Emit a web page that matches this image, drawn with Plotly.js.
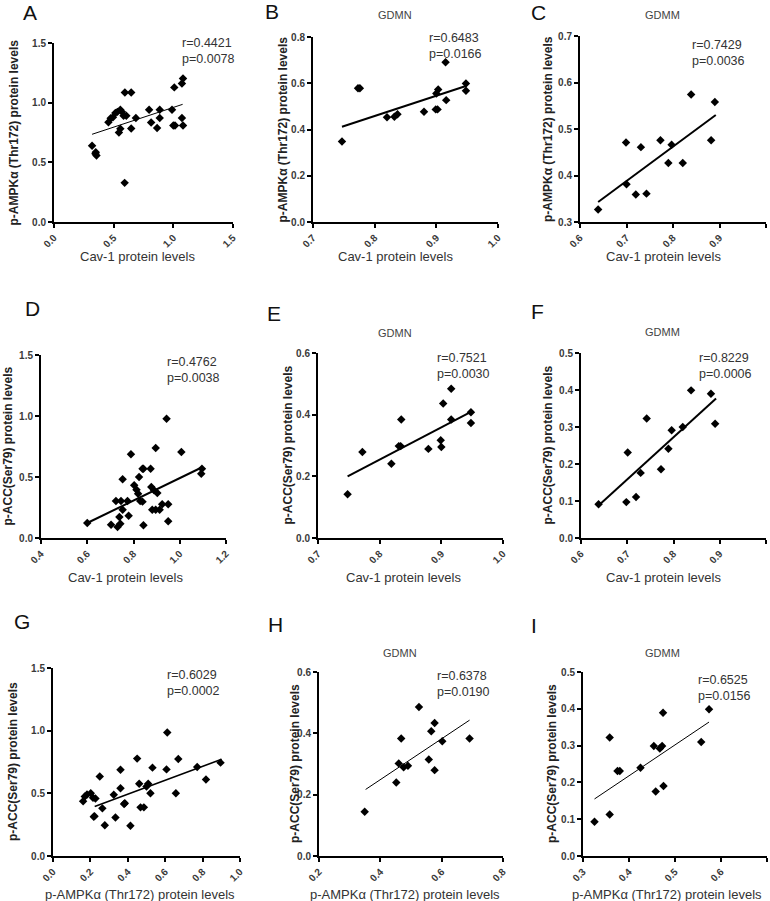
<!DOCTYPE html>
<html><head><meta charset="utf-8">
<script src="https://cdn.plot.ly/plotly-3.0.1.min.js"></script>
<style>html,body{margin:0;padding:0;background:#fff}</style>
</head><body><div id="chart" style="width:770px;height:901px"></div>
<script>
// ---- Data ----
const aX = [0.319,0.347,0.356,0.350,0.456,0.475,0.494,0.514,0.531,0.556,0.569,0.544,0.556,0.583,0.606,0.594,0.647,0.592,0.647,0.686,0.797,0.814,0.864,0.886,0.886,0.989,1.000,1.014,1.008,1.072,1.081,1.072,1.081];
const aY = [0.639,0.571,0.557,0.585,0.836,0.869,0.877,0.913,0.923,0.940,0.923,0.749,0.781,0.891,0.891,1.085,1.085,0.328,0.784,0.872,0.940,0.833,0.787,0.872,0.940,0.940,0.809,0.809,1.128,1.161,1.202,0.872,0.809];
const aFitX = [0.319,1.078], aFitY = [0.735,0.986];

const bX = [0.747,0.773,0.776,0.820,0.832,0.837,0.880,0.899,0.902,0.900,0.903,0.916,0.915,0.948,0.948];
const bY = [0.348,0.578,0.578,0.453,0.455,0.466,0.477,0.487,0.487,0.556,0.573,0.527,0.691,0.599,0.568];
const bFitX = [0.747,0.948], bFitY = [0.412,0.588];

const cX = [0.639,0.699,0.700,0.720,0.731,0.743,0.773,0.790,0.797,0.821,0.839,0.882,0.890];
const cY = [0.327,0.471,0.381,0.359,0.461,0.361,0.476,0.427,0.466,0.427,0.574,0.476,0.558];
const cFitX = [0.639,0.892], cFitY = [0.343,0.530];

const dX = [0.600,0.703,0.731,0.743,0.739,0.753,0.779,0.724,0.746,0.774,0.753,0.789,0.803,0.813,0.820,0.824,0.829,0.839,0.839,0.843,0.843,0.874,0.877,0.889,0.896,0.903,0.881,0.896,0.913,0.924,0.943,0.950,0.950,1.007,1.096,1.093];
const dY = [0.123,0.109,0.090,0.117,0.172,0.232,0.183,0.303,0.303,0.303,0.481,0.686,0.432,0.396,0.363,0.500,0.303,0.298,0.568,0.568,0.104,0.568,0.418,0.391,0.738,0.369,0.232,0.232,0.232,0.276,0.978,0.276,0.137,0.705,0.568,0.527];
const dFitX = [0.600,1.099], dFitY = [0.123,0.582];

const eX = [0.748,0.772,0.819,0.831,0.834,0.835,0.879,0.899,0.900,0.903,0.916,0.916,0.948,0.948];
const eY = [0.142,0.279,0.241,0.298,0.298,0.384,0.289,0.317,0.295,0.436,0.384,0.484,0.408,0.373];
const eFitX = [0.748,0.948], eFitY = [0.200,0.409];

const fX = [0.638,0.698,0.701,0.719,0.729,0.742,0.773,0.789,0.796,0.820,0.838,0.881,0.890];
const fY = [0.091,0.097,0.231,0.111,0.176,0.323,0.186,0.241,0.291,0.300,0.399,0.390,0.309];
const fFitX = [0.638,0.892], fFitY = [0.088,0.377];

const gX = [0.161,0.170,0.182,0.202,0.214,0.227,0.218,0.222,0.250,0.264,0.277,0.325,0.334,0.361,0.361,0.380,0.384,0.414,0.450,0.461,0.468,0.486,0.500,0.509,0.521,0.532,0.607,0.611,0.657,0.670,0.771,0.818,0.896];
const gY = [0.437,0.474,0.490,0.501,0.464,0.458,0.313,0.318,0.635,0.380,0.246,0.488,0.308,0.688,0.541,0.415,0.421,0.241,0.777,0.576,0.388,0.388,0.555,0.576,0.501,0.705,0.691,0.986,0.501,0.774,0.710,0.611,0.745];
const gFitX = [0.223,0.902], gFitY = [0.394,0.772];

const hX = [0.349,0.452,0.460,0.468,0.476,0.490,0.526,0.558,0.566,0.577,0.577,0.602,0.691];
const hY = [0.144,0.240,0.302,0.383,0.289,0.294,0.486,0.315,0.407,0.434,0.280,0.374,0.383];
const hFitX = [0.352,0.691], hFitY = [0.217,0.443];

const iX = [0.325,0.358,0.358,0.375,0.380,0.425,0.454,0.458,0.467,0.472,0.474,0.475,0.557,0.574];
const iY = [0.093,0.322,0.113,0.231,0.231,0.240,0.299,0.175,0.292,0.299,0.389,0.190,0.310,0.399];
const iFitX = [0.325,0.574], iFitY = [0.155,0.364];

const panelLetters = ['A','B','C','D','E','F','G','H','I'];
const groupTitles = ['', 'GDMN', 'GDMM', '', 'GDMN', 'GDMM', '', 'GDMN', 'GDMM'];
const rTexts = ['r=0.4421','r=0.6483','r=0.7429','r=0.4762','r=0.7521','r=0.8229','r=0.6029','r=0.6378','r=0.6525'];
const pTexts = ['p=0.0078','p=0.0166','p=0.0036','p=0.0038','p=0.0030','p=0.0006','p=0.0002','p=0.0190','p=0.0156'];
const xTitles = ['Cav-1 protein levels','Cav-1 protein levels','Cav-1 protein levels',
                 'Cav-1 protein levels','Cav-1 protein levels','Cav-1 protein levels',
                 'p-AMPKα (Thr172) protein levels','p-AMPKα (Thr172) protein levels','p-AMPKα (Thr172) protein levels'];
const yTitles = ['p-AMPKα (Thr172) protein levels','p-AMPKα (Thr172) protein levels','p-AMPKα (Thr172) protein levels',
                 'p-ACC(Ser79) protein levels','p-ACC(Ser79) protein levels','p-ACC(Ser79) protein levels',
                 'p-ACC(Ser79) protein levels','p-ACC(Ser79) protein levels','p-ACC(Ser79) protein levels'];
const xRanges = [[0,1.5],[0.7,1.0],[0.6,1.0],[0.4,1.2],[0.7,1.0],[0.6,1.0],[0,1.0],[0.2,0.8],[0.3,0.7]];
const xSteps  = [0.5,0.1,0.1,0.2,0.1,0.1,0.2,0.2,0.1];
const yRanges = [[0,1.5],[0,0.8],[0.3,0.7],[0,1.5],[0,0.6],[0,0.5],[0,1.5],[0,0.6],[0,0.5]];
const ySteps  = [0.5,0.2,0.1,0.5,0.2,0.1,0.5,0.2,0.1];

const seriesX = [aX,bX,cX,dX,eX,fX,gX,hX,iX];
const seriesY = [aY,bY,cY,dY,eY,fY,gY,hY,iY];
const fitXs = [aFitX,bFitX,cFitX,dFitX,eFitX,fFitX,gFitX,hFitX,iFitX];
const fitYs = [aFitY,bFitY,cFitY,dFitY,eFitY,fFitY,gFitY,hFitY,iFitY];

// ---- Layout geometry (pixels) ----
const W = 770, H = 901;
const px = x => x / W, py = y => 1 - y / H;
// [left, right, top, bottom] of plot area
const boxes = [[54,233,43,222],[313,498,37,222],[580,766,36,222],
               [41,226,355,538],[318,503,353,538],[581,766,353,538],
               [53,240,668,856],[319,503,672,856],[583,767,672,856]];
const letterPos = [[30,13],[272,11],[538,12],[32,309],[274,313],[537,311],[22,621],[275,624],[534,625]];
const titlePos = [null,[395,15],[662,15],null,[395,333],[662,332],null,[400,653],[662,653]];
// [right edge, vertical centre of the two-line r/p block]
const rpPos = [[237,51],[484,46],[747,53],[222,370],[492,366],[754,366],[222,683],[492,684],[753,688]];
const xtPos = [[137,257],[395,257],[663,257],[125,577],[403,577],[663,577],[140,894],[405,894],[667,894]];
const ytX = [13,282,548,8,288,548,13,295,552];
const fitW = [1,2,2,2,2,2,1.6,1,1];

const FONT = 'Liberation Sans, Arial, sans-serif';
const data = [];
const layout = {
  width: W, height: H, margin: {l:0,r:0,t:0,b:0},
  paper_bgcolor: '#fff', plot_bgcolor: 'rgba(0,0,0,0)',
  showlegend: false, annotations: [], font: {family: FONT, color: '#333'}
};

for (let k = 0; k < 9; k++) {
  const n = k === 0 ? '' : String(k + 1);
  const b = boxes[k];
  data.push({
    type: 'scatter', mode: 'markers', x: seriesX[k], y: seriesY[k],
    xaxis: 'x' + n, yaxis: 'y' + n, cliponaxis: false,
    marker: {symbol: 'diamond', size: 6.5, color: '#000'}, hoverinfo: 'skip'
  });
  data.push({
    type: 'scatter', mode: 'lines', x: fitXs[k], y: fitYs[k],
    xaxis: 'x' + n, yaxis: 'y' + n,
    line: {color: '#000', width: fitW[k]}, hoverinfo: 'skip'
  });
  const common = {
    showline: true, linecolor: '#000', linewidth: 2, ticks: 'outside', ticklen: 4,
    tickwidth: 2, tickcolor: '#000', showgrid: false, zeroline: false,
    tickformat: '.1f', automargin: false, fixedrange: true,
    tickfont: {family: FONT, size: 10, color: '#3a3a3a', weight: 'bold'}
  };
  layout['xaxis' + n] = Object.assign({}, common, {
    domain: [px(b[0]), px(b[1])], anchor: 'y' + n,
    range: xRanges[k], tick0: xRanges[k][0], dtick: xSteps[k], tickangle: -45
  });
  layout['yaxis' + n] = Object.assign({}, common, {
    domain: [py(b[3]), py(b[2])], anchor: 'x' + n,
    range: yRanges[k], tick0: yRanges[k][0], dtick: ySteps[k]
  });
  const A = layout.annotations;
  A.push({text: panelLetters[k], xref: 'paper', yref: 'paper', x: px(letterPos[k][0]), y: py(letterPos[k][1]),
          xanchor: 'center', yanchor: 'middle', showarrow: false, font: {family: FONT, size: 21, color: '#111'}});
  if (groupTitles[k]) {
    A.push({text: groupTitles[k], xref: 'paper', yref: 'paper', x: px(titlePos[k][0]), y: py(titlePos[k][1]),
            xanchor: 'center', yanchor: 'middle', showarrow: false, font: {family: FONT, size: 11, color: '#444'}});
  }
  A.push({text: rTexts[k] + '<br>' + pTexts[k], xref: 'paper', yref: 'paper',
          x: px(rpPos[k][0]), y: py(rpPos[k][1]), align: 'left',
          xanchor: 'right', yanchor: 'middle', showarrow: false, font: {family: FONT, size: 12.5, color: '#333'}});
  A.push({text: xTitles[k], xref: 'paper', yref: 'paper', x: px(xtPos[k][0]), y: py(xtPos[k][1]),
          xanchor: 'center', yanchor: 'middle', showarrow: false, font: {family: FONT, size: 13, color: '#333'}});
  A.push({text: yTitles[k], xref: 'paper', yref: 'paper', x: px(ytX[k]), y: py((b[2] + b[3]) / 2),
          xanchor: 'center', yanchor: 'middle', textangle: -90, showarrow: false,
          font: {family: FONT, size: 12, color: '#222', weight: 'bold'}});
}

Plotly.newPlot('chart', data, layout, {staticPlot: true, displayModeBar: false});
</script>
</body></html>
